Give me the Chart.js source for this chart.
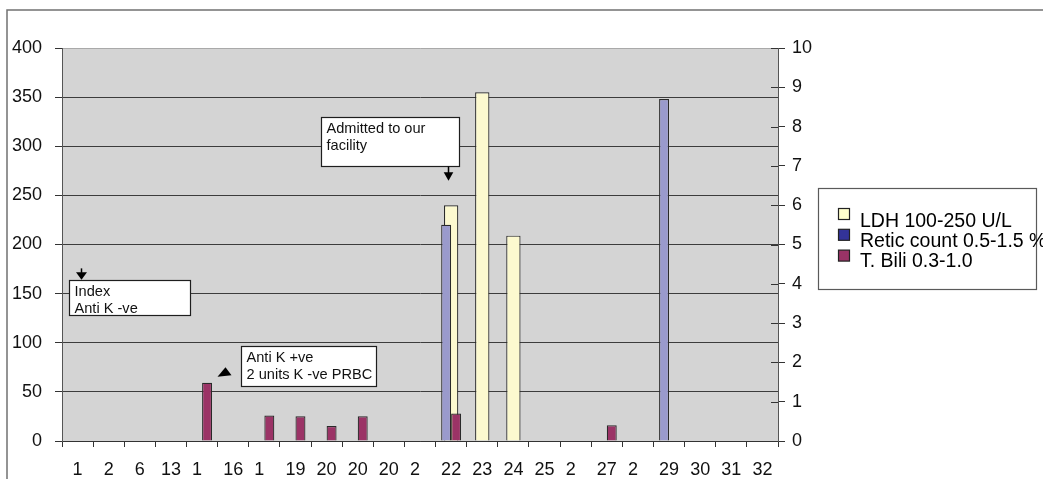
<!DOCTYPE html>
<html>
<head>
<meta charset="utf-8">
<style>
  html, body { margin: 0; padding: 0; background: #ffffff; }
  #wrap { width: 1043px; height: 479px; position: relative; }
  canvas { display: block; }
</style>
<script src="https://cdn.jsdelivr.net/npm/chart.js@4.4.1/dist/chart.umd.min.js"></script>
</head>
<body>
<div id="wrap"><canvas id="chart" width="1043" height="479"></canvas></div>
<script>
// Day labels along the bottom (some are clipped to their first digit)
const days = ['1', '2', '6', '13', '1  ', '16', '1  ', '19', '20', '20', '20', '2  ',
              '22', '23', '24', '25', '2  ', '27', '2  ', '29', '30', '31', '32'];

// LDH, U/L (left axis)
const ldh = [null, null, null, null, null, null, null, null, null, null, null, null,
             240, 355, 209, null, null, null, null, null, null, null, null];

// Reticulocyte count, % (right axis)
const retic = [null, null, null, null, null, null, null, null, null, null, null, null,
               5.5, null, null, null, null, null, null, 8.7, null, null, null];

// Total bilirubin, mg/dL (right axis)
const bili = [null, null, null, null, 1.48, null, 0.65, 0.63, 0.38, 0.63, null, null,
              0.7, null, null, null, null, 0.4, null, null, null, null, null];

const seriesNames = ['LDH 100-250 U/L', 'Retic count 0.5-1.5 %', 'T. Bili 0.3-1.0'];
const legendSwatches = ['#ffffcc', '#333399', '#993366'];

// Callouts: arrow tip anchored at (category index, LDH value) plus a pixel nudge
const notes = [
  { lines: ['Index', 'Anti K -ve'], cat: 0, val: 164, dx: 3,
    box: { x: -12.5, y: 0.5, w: 121, h: 35 }, arrow: 'down' },
  { lines: ['Anti K +ve', '2 units K -ve PRBC'], cat: 5, val: 75, dx: -8.7,
    box: { x: 15.5, y: -21, w: 135, h: 40 }, arrow: 'head' },
  { lines: ['Admitted to our', 'facility'], cat: 12, val: 265, dx: -3,
    box: { x: -128, y: -64, w: 138, h: 49 }, arrow: 'stem' }
];

const FONT = '"Liberation Sans", Arial, Helvetica, sans-serif';

const decor = {
  id: 'decor',
  beforeDraw(chart) {
    const { ctx, chartArea: a } = chart;
    ctx.save();
    ctx.fillStyle = '#d4d4d4';
    ctx.fillRect(a.left, a.top, a.right - a.left, a.bottom - a.top);
    // outer frame of the figure
    ctx.strokeStyle = '#727272';
    ctx.lineWidth = 1.5;
    ctx.beginPath();
    ctx.moveTo(7, chart.height);
    ctx.lineTo(7, 10);
    ctx.lineTo(chart.width, 10);
    ctx.stroke();
    ctx.restore();
  },
  afterDatasetsDraw(chart) {
    const { ctx } = chart;
    const xs = chart.scales.x, ys = chart.scales.y;
    ctx.save();
    ctx.font = '14.6px ' + FONT;
    ctx.textBaseline = 'alphabetic';
    ctx.textAlign = 'left';
    notes.forEach(n => {
      const tx = Math.round(xs.getPixelForValue(n.cat) + n.dx) + 0.5;
      const ty = ys.getPixelForValue(n.val);
      const bx = Math.round(tx + n.box.x) + 0.5, by = Math.round(ty + n.box.y) + 0.5;
      ctx.fillStyle = '#ffffff';
      ctx.fillRect(bx, by, n.box.w, n.box.h);
      ctx.strokeStyle = '#1e1e1e';
      ctx.lineWidth = 1.2;
      ctx.strokeRect(bx, by, n.box.w, n.box.h);
      ctx.fillStyle = '#111111';
      n.lines.forEach((t, i) => ctx.fillText(t, bx + 5, by + 15.8 + i * 16.6));
      ctx.fillStyle = '#000000';
      ctx.strokeStyle = '#000000';
      ctx.lineWidth = 1.5;
      if (n.arrow === 'down') {
        ctx.beginPath(); ctx.moveTo(tx, ty - 11.5); ctx.lineTo(tx, ty - 7); ctx.stroke();
        ctx.beginPath();
        ctx.moveTo(tx - 5.5, ty - 7.5); ctx.lineTo(tx + 5.5, ty - 7.5); ctx.lineTo(tx, ty);
        ctx.closePath(); ctx.fill();
      } else if (n.arrow === 'stem') {
        ctx.beginPath(); ctx.moveTo(tx, by + n.box.h); ctx.lineTo(tx, ty - 7); ctx.stroke();
        ctx.beginPath();
        ctx.moveTo(tx - 4.8, ty - 8.3); ctx.lineTo(tx + 4.8, ty - 8.3); ctx.lineTo(tx, ty);
        ctx.closePath(); ctx.fill();
      } else {
        ctx.beginPath();
        ctx.moveTo(tx, ty); ctx.lineTo(tx + 6, ty + 8); ctx.lineTo(tx - 8, ty + 9.5);
        ctx.closePath(); ctx.fill();
      }
    });
    ctx.restore();
  },
  afterDraw(chart) {
    const { ctx } = chart;
    const s = chart.scales.y2;
    ctx.save();
    // right-axis tick marks cross the axis line
    ctx.strokeStyle = '#333333';
    ctx.lineWidth = 1;
    s.ticks.forEach(t => {
      const y = Math.round(s.getPixelForValue(t.value)) + 0.5;
      ctx.beginPath(); ctx.moveTo(s.left - 7, y); ctx.lineTo(s.left, y); ctx.stroke();
    });
    // legend box
    const L = { x: 818.5, y: 188.5, w: 218, h: 101 };
    ctx.fillStyle = '#ffffff';
    ctx.fillRect(L.x, L.y, L.w, L.h);
    ctx.strokeStyle = '#5a5a5a';
    ctx.lineWidth = 1.2;
    ctx.strokeRect(L.x, L.y, L.w, L.h);
    ctx.font = '19.5px ' + FONT;
    ctx.textAlign = 'left';
    ctx.textBaseline = 'alphabetic';
    seriesNames.forEach((name, i) => {
      const sy = 208.5 + i * 20.8;
      ctx.fillStyle = legendSwatches[i];
      ctx.fillRect(838.5, sy, 11, 11);
      ctx.strokeStyle = '#222222';
      ctx.lineWidth = 1.2;
      ctx.strokeRect(838.5, sy, 11, 11);
      ctx.fillStyle = '#000000';
      ctx.fillText(name, 860, 226.6 + i * 20);
    });
    ctx.restore();
  }
};

const tickFont = { family: FONT, size: 18 };

new Chart(document.getElementById('chart'), {
  type: 'bar',
  data: {
    labels: days,
    datasets: [
      // LDH sits centred in each day on its own, behind the other two series
      { label: seriesNames[0], data: ldh, yAxisID: 'y', order: 2, grouped: false,
        backgroundColor: '#fcf9cf', borderColor: '#2a2a2a', borderWidth: 1.2,
        categoryPercentage: 1, barPercentage: 0.46 },
      { label: seriesNames[1], data: retic, yAxisID: 'y2', order: 0,
        backgroundColor: '#9a9acc', borderColor: '#2a2a2a', borderWidth: 1.2,
        categoryPercentage: 0.64, barPercentage: 1 },
      { label: seriesNames[2], data: bili, yAxisID: 'y2', order: 1,
        backgroundColor: '#9b3366', borderColor: '#2a2a2a', borderWidth: 1.2,
        categoryPercentage: 0.64, barPercentage: 1 }
    ]
  },
  options: {
    responsive: false,
    animation: false,
    devicePixelRatio: 1,
    layout: { padding: { top: 48, left: 0, right: 0, bottom: 0 } },
    plugins: { legend: { display: false }, tooltip: { enabled: false } },
    scales: {
      x: {
        type: 'category', position: 'bottom', offset: true,
        grid: { offset: true, drawOnChartArea: false, tickLength: 6, color: '#333333', lineWidth: 1 },
        border: { display: true, color: '#333333', width: 1 },
        ticks: { font: tickFont, color: '#111111', padding: 12, maxRotation: 0, autoSkip: false },
        afterFit(s) { s.height = 38; }
      },
      y: {
        position: 'left', min: 0, max: 400,
        ticks: { stepSize: 50, font: tickFont, color: '#111111', padding: 13 },
        grid: {
          color: c => (c.tick && c.tick.value === 400 ? '#a9a9a9' : '#3c3c3c'),
          tickColor: '#333333', tickLength: 7, lineWidth: 1
        },
        border: { display: true, color: '#555555', width: 1 },
        afterFit(s) { s.width = 62; }
      },
      y2: {
        position: 'right', min: 0, max: 10,
        ticks: { stepSize: 1, font: tickFont, color: '#111111', padding: 7 },
        grid: { drawOnChartArea: false, tickLength: 7, color: '#333333', lineWidth: 1 },
        border: { display: true, color: '#555555', width: 1 },
        afterFit(s) { s.width = 265; }
      }
    }
  },
  plugins: [decor]
});
</script>
</body>
</html>
